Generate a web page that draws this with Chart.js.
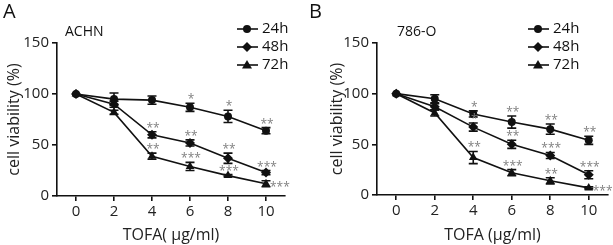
<!DOCTYPE html>
<html>
<head>
<meta charset="utf-8">
<script src="https://cdn.jsdelivr.net/npm/chart.js@4.4.1/dist/chart.umd.min.js"></script>
<style>
  body { margin: 0; background: #fff; }
  .panel { position: absolute; top: 0; height: 245px; }
  #wrapA { left: 0; width: 305px; }
  #wrapB { left: 305px; width: 308px; }
</style>
</head>
<body>
<div class="panel" id="wrapA"><canvas id="chartA"></canvas></div>
<div class="panel" id="wrapB"><canvas id="chartB"></canvas></div>
<script>
// TOFA doses (ug/ml) and axis ticks
const doses = [0, 2, 4, 6, 8, 10];
const yTicks = [0, 50, 100, 150];
const timeLabels = ['24h', '48h', '72h'];

// ACHN cell viability (%)
const achn24 = [100, 95, 94, 87, 78, 64];
const achn48 = [100, 90, 60, 52, 37, 23];
const achn72 = [100, 82, 39, 29, 20, 12];
const achn24Err = [0, 6, 4, 4, 6, 3];
const achn48Err = [0, 3, 3, 3, 5, 2];
const achn72Err = [0, 2, 3, 4, 1, 3];
const achn24Sig = ['', '', '', '*', '*', '**'];
const achn48Sig = ['', '', '**', '**', '**', '***'];
const achn72Sig = ['', '', '**', '***', '***', '***>'];

// 786-O cell viability (%)
const o786_24 = [100, 95, 80, 72, 65, 54];
const o786_48 = [100, 87, 67, 50, 39, 20];
const o786_72 = [100, 81, 37, 22, 14, 7];
const o786_24Err = [0, 4, 3, 6, 5, 4];
const o786_48Err = [0, 3, 4, 4, 3, 4];
const o786_72Err = [0, 3, 6, 3, 3, 1];
const o786_24Sig = ['', '', '*', '**', '**', '**'];
const o786_48Sig = ['', '', '*', '**', '***', '***'];
const o786_72Sig = ['', '', '**', '***', '**', '***>'];

const FONT = '"Open Sans", sans-serif';
const markers = ['circle', 'rectRot', 'triangle'];
const markerSize = [4, 5, 5];

function drawMarker(ctx, style, x, y, r) {
  ctx.beginPath();
  if (style === 'circle') {
    ctx.arc(x, y, r, 0, Math.PI * 2);
  } else if (style === 'rectRot') {
    ctx.moveTo(x, y - r); ctx.lineTo(x + r, y); ctx.lineTo(x, y + r); ctx.lineTo(x - r, y);
    ctx.closePath();
  } else {
    ctx.moveTo(x, y - r); ctx.lineTo(x + r, y + r * 0.7); ctx.lineTo(x - r, y + r * 0.7);
    ctx.closePath();
  }
  ctx.fill();
}

// error bars + significance stars, positioned through the chart scales
const errorBars = {
  id: 'errorBars',
  afterDatasetsDraw(chart) {
    const ctx = chart.ctx;
    const xs = chart.scales.x, ys = chart.scales.y;
    ctx.save();
    chart.data.datasets.forEach(ds => {
      ds.data.forEach((p, i) => {
        const e = ds.err[i];
        const px = xs.getPixelForValue(p.x);
        const top = ys.getPixelForValue(p.y + e);
        const bot = ys.getPixelForValue(p.y - e);
        if (e > 0) {
          ctx.strokeStyle = '#111';
          ctx.lineWidth = 1.6;
          ctx.beginPath();
          ctx.moveTo(px, top); ctx.lineTo(px, bot);
          ctx.moveTo(px - 4.5, top); ctx.lineTo(px + 4.5, top);
          ctx.moveTo(px - 4.5, bot); ctx.lineTo(px + 4.5, bot);
          ctx.stroke();
        }
        let s = ds.sig[i];
        if (!s) return;
        ctx.fillStyle = '#808080';
        ctx.font = '12px ' + FONT;
        ctx.textBaseline = 'alphabetic';
        if (s.endsWith('>')) {
          s = s.slice(0, -1);
          ctx.textAlign = 'left';
          ctx.fillText(s, px + 4, ys.getPixelForValue(p.y) + 7);
        } else {
          ctx.textAlign = 'center';
          ctx.fillText(s, px + 1, top);
        }
      });
    });
    ctx.restore();
  }
};

// panel letter, cell line name and legend
const decorations = {
  id: 'decorations',
  afterDraw(chart, args, opts) {
    const ctx = chart.ctx;
    ctx.save();
    ctx.fillStyle = '#111';
    ctx.textBaseline = 'middle';
    ctx.textAlign = 'left';
    ctx.font = '20px ' + FONT;
    ctx.fillText(opts.letter, opts.letterX, 12);
    ctx.font = '14px ' + FONT;
    ctx.fillText(opts.cell, opts.cellX, 32);
    timeLabels.forEach((t, i) => {
      const y = 29 + i * 18;
      ctx.strokeStyle = '#111';
      ctx.lineWidth = 1.6;
      ctx.beginPath();
      ctx.moveTo(opts.legX, y); ctx.lineTo(opts.legX + 21, y);
      ctx.stroke();
      drawMarker(ctx, markers[i], opts.legX + 10, y, markerSize[i]);
      ctx.font = '15px ' + FONT;
      ctx.fillText(t, opts.legX + 25, y);
    });
    ctx.restore();
  }
};

function makePanel(id, series, errs, sigs, cfg) {
  const datasets = series.map((vals, k) => ({
    data: doses.map((d, i) => ({ x: d, y: vals[i] })),
    err: errs[k],
    sig: sigs[k],
    borderColor: '#111',
    backgroundColor: '#111',
    borderWidth: 1.6,
    pointStyle: markers[k],
    pointRadius: markerSize[k],
    pointBorderWidth: 0,
    tension: 0
  }));
  new Chart(document.getElementById(id), {
    type: 'line',
    data: { datasets },
    plugins: [errorBars, decorations],
    options: {
      responsive: true,
      maintainAspectRatio: false,
      animation: false,
      devicePixelRatio: 1,
      layout: { padding: cfg.padding },
      plugins: {
        legend: { display: false },
        tooltip: { enabled: false },
        decorations: cfg.deco
      },
      scales: {
        x: {
          type: 'linear',
          min: -1,
          max: 11,
          afterBuildTicks: s => { s.ticks = doses.map(v => ({ value: v })); },
          afterFit: s => { s.height = cfg.xHeight; },
          border: { color: '#111', width: 1.6 },
          grid: { drawOnChartArea: false, tickLength: 5, color: '#111', lineWidth: 1.6 },
          ticks: { color: '#222', padding: 2, font: { family: FONT, size: 15 } },
          title: {
            display: true,
            text: cfg.xTitle,
            color: '#222',
            padding: { top: 2, bottom: 0 },
            font: { family: FONT, size: 16 }
          }
        },
        y: {
          min: 0,
          max: 150,
          afterBuildTicks: s => { s.ticks = yTicks.map(v => ({ value: v })); },
          afterFit: s => { s.width = cfg.yWidth; },
          border: { color: '#111', width: 1.6 },
          grid: { drawOnChartArea: false, tickLength: 5, color: '#111', lineWidth: 1.6 },
          ticks: { color: '#222', padding: 3, font: { family: FONT, size: 15 } },
          title: {
            display: true,
            text: 'cell viability (%)',
            color: '#222',
            padding: { top: 3, bottom: 0 },
            font: { family: FONT, size: 16 }
          }
        }
      }
    }
  });
}

makePanel('chartA',
  [achn24, achn48, achn72],
  [achn24Err, achn48Err, achn72Err],
  [achn24Sig, achn48Sig, achn72Sig],
  {
    padding: { left: 2, right: 20, top: 43, bottom: 0 },
    yWidth: 55, xHeight: 49,
    xTitle: 'TOFA( \u00b5g/ml)',
    deco: { letter: 'A', letterX: 3, cell: 'ACHN', cellX: 65, legX: 237 }
  });

makePanel('chartB',
  [o786_24, o786_48, o786_72],
  [o786_24Err, o786_48Err, o786_72Err],
  [o786_24Sig, o786_48Sig, o786_72Sig],
  {
    padding: { left: 20, right: 3, top: 43, bottom: 0 },
    yWidth: 52, xHeight: 50,
    xTitle: 'TOFA (\u00b5g/ml)',
    deco: { letter: 'B', letterX: 4, cell: '786-O', cellX: 92, legX: 223 }
  });
</script>
</body>
</html>
